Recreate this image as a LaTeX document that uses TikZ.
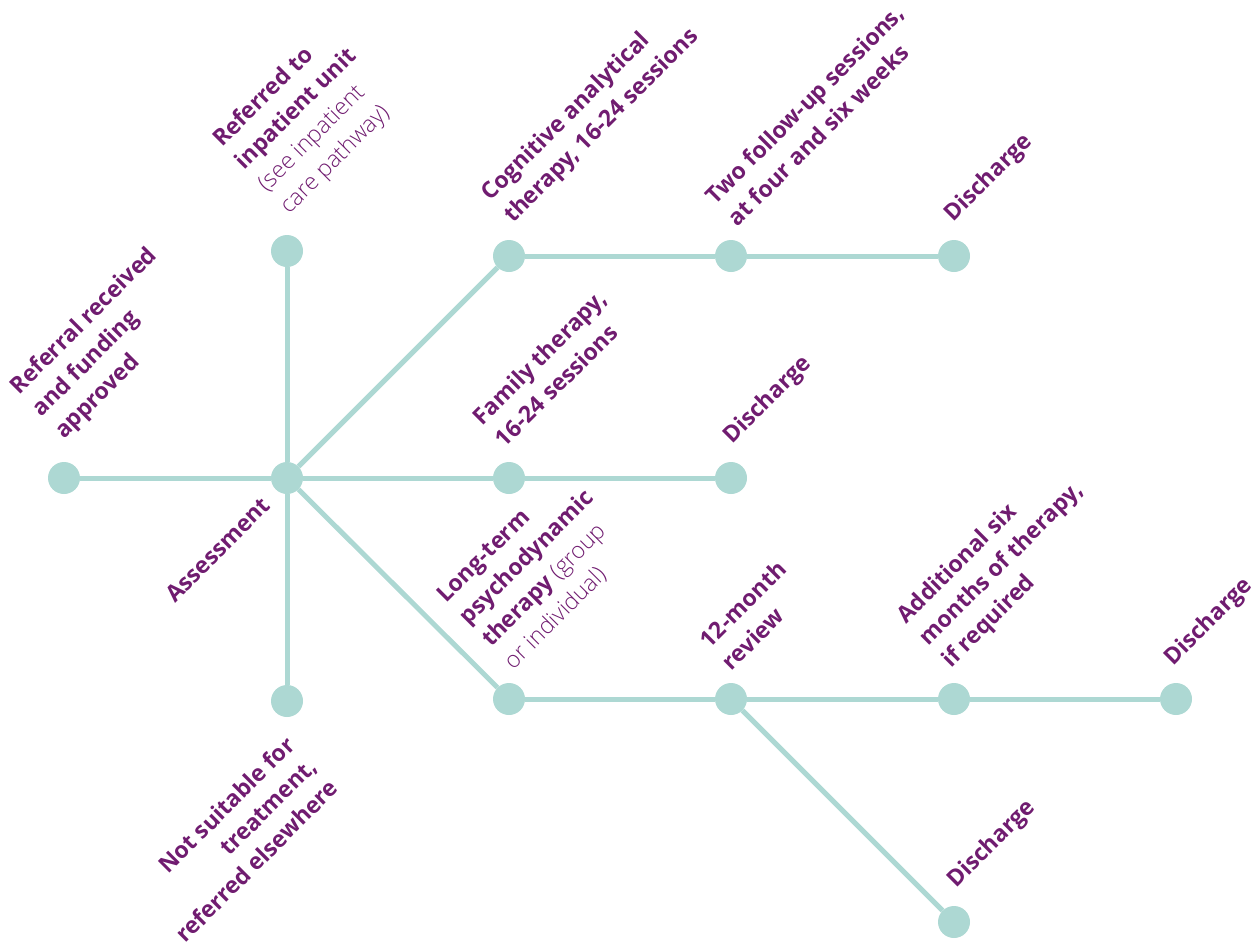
\documentclass[tikz,border=0pt]{standalone}
\usepackage{fontspec}
\setmainfont{Open Sans}
\newfontfamily\lightf{Open Sans Light}
\newcommand\lightpart[1]{{\mdseries\lightf #1}}
\definecolor{teal1}{RGB}{173,216,211}
\definecolor{plum}{RGB}{112,28,112}
\begin{document}
\begin{tikzpicture}[x=1pt,y=-1pt,
  dot/.style={circle,fill=teal1,minimum size=32pt,inner sep=0pt},
  link/.style={draw=teal1,line width=5pt},
  lbl/.style={text=plum,font=\fontsize{23}{31.5}\selectfont\bfseries,rotate=45,inner sep=0pt,align=left,anchor=south west},
]
\useasboundingbox (0,0) rectangle (1257,948);
% dots
\node[dot] (ref) at (64,478) {};
\node[dot] (ass) at (287,478) {};
\node[dot] (inp) at (287,251) {};
\node[dot] (nots) at (287,701) {};
\node[dot] (cat) at (509,256) {};
\node[dot] (fol) at (731,256) {};
\node[dot] (dis1) at (954,256) {};
\node[dot] (fam) at (509,478) {};
\node[dot] (dis2) at (731,478) {};
\node[dot] (ltp) at (509,699) {};
\node[dot] (rev) at (731,699) {};
\node[dot] (add) at (954,699) {};
\node[dot] (dis3) at (1176,699) {};
\node[dot] (dis4) at (954,922) {};
% links
\draw[link] (ref) -- (ass);
\draw[link] (ass) -- (inp);
\draw[link] (ass) -- (nots);
\draw[link] (ass) -- (cat);
\draw[link] (ass) -- (fam);
\draw[link] (ass) -- (ltp);
\draw[link] (cat) -- (fol);
\draw[link] (fol) -- (dis1);
\draw[link] (fam) -- (dis2);
\draw[link] (ltp) -- (rev);
\draw[link] (rev) -- (add);
\draw[link] (add) -- (dis3);
\draw[link] (rev) -- (dis4);
% labels
\node[lbl] (tref) at (68,444) {Referral received\\and funding\\approved};
\node[lbl] (tinp) at (293,219) {Referred to\\inpatient unit\\\lightpart{(see inpatient}\\\lightpart{care pathway)}};
\node[lbl,anchor=north east] (tass) at (260,495) {Assessment};
\node[lbl,anchor=north east,align=right,font=\fontsize{23}{30.5}\selectfont\bfseries] (tnots) at (284,734) {Not suitable for\\treatment,\\referred elsewhere};
\node[lbl] (tcat) at (517,228) {Cognitive analytical\\therapy, 16-24 sessions};
\node[lbl] (tfol) at (738,228) {Two follow-up sessions,\\at four and six weeks};
\node[lbl] (tdis1) at (957,227) {Discharge};
\node[lbl] (tfam) at (505,449) {Family therapy,\\16-24 sessions};
\node[lbl] (tdis2) at (736,449) {Discharge};
\node[lbl] (tltp) at (516,673) {Long-term\\psychodynamic\\therapy \lightpart{(group}\\\lightpart{or individual)}};
\node[lbl] (trev) at (732,672) {12-month\\review};
\node[lbl] (tadd) at (955,673) {Additional six\\months of therapy,\\if required};
\node[lbl] (tdis3) at (1177,671) {Discharge};
\node[lbl] (tdis4) at (960,893) {Discharge};
\end{tikzpicture}
\end{document}
